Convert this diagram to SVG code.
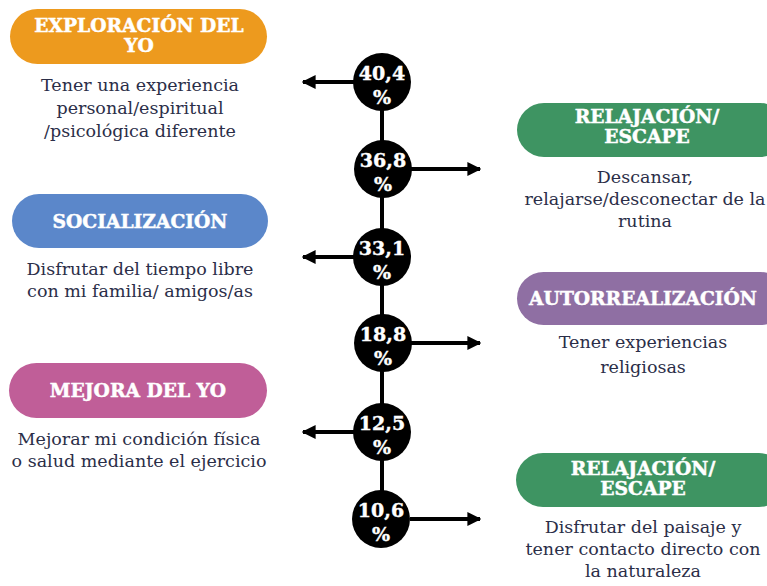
<svg xmlns="http://www.w3.org/2000/svg" width="767" height="586" viewBox="0 0 767 586">
<style>
.hd{font-family:"DejaVu Serif","Liberation Serif",serif;font-weight:bold;font-size:18.7px;fill:#fff;text-anchor:middle;stroke:#fff;stroke-width:0.5}
.ds{font-family:"DejaVu Serif","Liberation Serif",serif;font-size:17.5px;fill:#2b2e48;text-anchor:middle}
.pc{font-family:"DejaVu Serif","Liberation Serif",serif;font-weight:bold;font-size:19px;fill:#fff;text-anchor:middle;stroke:#fff;stroke-width:0.4}
.ln{stroke:#000;stroke-width:4;fill:none}
</style>
<defs>
<marker id="ah" viewBox="0 0 10 10" refX="9" refY="5" markerWidth="14" markerHeight="14" markerUnits="userSpaceOnUse" orient="auto">
<path d="M0,0 L10,5 L0,10 Z" fill="#000"/>
</marker>
</defs>
<rect width="767" height="586" fill="#fff"/>
<g id="connectors">
<line class="ln" x1="382" y1="82" x2="382" y2="519"/>
<line class="ln" x1="354" y1="82" x2="303" y2="82" marker-end="url(#ah)"/>
<line class="ln" x1="411" y1="169" x2="480" y2="169" marker-end="url(#ah)"/>
<line class="ln" x1="354" y1="257" x2="303" y2="257" marker-end="url(#ah)"/>
<line class="ln" x1="411" y1="343" x2="480" y2="343" marker-end="url(#ah)"/>
<line class="ln" x1="354" y1="432" x2="303" y2="432" marker-end="url(#ah)"/>
<line class="ln" x1="410" y1="519" x2="480" y2="519" marker-end="url(#ah)"/>
</g>
<g id="p1"><circle cx="382" cy="82" r="29"/><text class="pc" x="382" y="80">40,4</text><text class="pc" x="382" y="104">%</text></g>
<g id="p2"><circle cx="383" cy="169" r="29"/><text class="pc" x="383" y="167">36,8</text><text class="pc" x="383" y="191">%</text></g>
<g id="p3"><circle cx="382" cy="257" r="29"/><text class="pc" x="382" y="255">33,1</text><text class="pc" x="382" y="279">%</text></g>
<g id="p4"><circle cx="383" cy="343" r="29"/><text class="pc" x="383" y="341">18,8</text><text class="pc" x="383" y="365">%</text></g>
<g id="p5"><circle cx="382" cy="432" r="29"/><text class="pc" x="382" y="430">12,5</text><text class="pc" x="382" y="454">%</text></g>
<g id="p6"><circle cx="381" cy="519" r="29"/><text class="pc" x="381" y="517">10,6</text><text class="pc" x="381" y="541">%</text></g>
<g id="n1">
<rect x="10" y="9" width="257" height="55" rx="27.5" fill="#ED9A1E"/>
<text class="hd" x="139" y="32">EXPLORACIÓN DEL</text><text class="hd" x="139" y="52">YO</text>
<text class="ds" x="140" y="91">Tener una experiencia</text>
<text class="ds" x="140" y="114">personal/espiritual</text>
<text class="ds" x="140" y="137">/psicológica diferente</text>
</g>
<g id="n2">
<rect x="12" y="194" width="256" height="54" rx="27" fill="#5B87CA"/>
<text class="hd" x="140" y="228">SOCIALIZACIÓN</text>
<text class="ds" x="140" y="275">Disfrutar del tiempo libre</text>
<text class="ds" x="140" y="297">con mi familia/ amigos/as</text>
</g>
<g id="n3">
<rect x="9" y="363" width="258" height="55" rx="27.5" fill="#C05E98"/>
<text class="hd" x="138" y="397">MEJORA DEL YO</text>
<text class="ds" x="139" y="445">Mejorar mi condición física</text>
<text class="ds" x="139" y="467">o salud mediante el ejercicio</text>
</g>
<g id="n4">
<rect x="517" y="103" width="270" height="54" rx="27" fill="#3E9462"/>
<text class="hd" x="647" y="123">RELAJACIÓN/</text><text class="hd" x="647" y="143">ESCAPE</text>
<text class="ds" x="645" y="183">Descansar,</text>
<text class="ds" x="645" y="205">relajarse/desconectar de la</text>
<text class="ds" x="645" y="227">rutina</text>
</g>
<g id="n5">
<rect x="517" y="272" width="270" height="53" rx="26.5" fill="#8F6FA3"/>
<text class="hd" x="643" y="305">AUTORREALIZACIÓN</text>
<text class="ds" x="643" y="348">Tener experiencias</text>
<text class="ds" x="643" y="373">religiosas</text>
</g>
<g id="n6">
<rect x="516" y="453" width="270" height="54" rx="27" fill="#3E9462"/>
<text class="hd" x="643" y="475">RELAJACIÓN/</text><text class="hd" x="643" y="495">ESCAPE</text>
<text class="ds" x="643" y="533">Disfrutar del paisaje y</text>
<text class="ds" x="643" y="555">tener contacto directo con</text>
<text class="ds" x="643" y="577">la naturaleza</text>
</g>
</svg>
